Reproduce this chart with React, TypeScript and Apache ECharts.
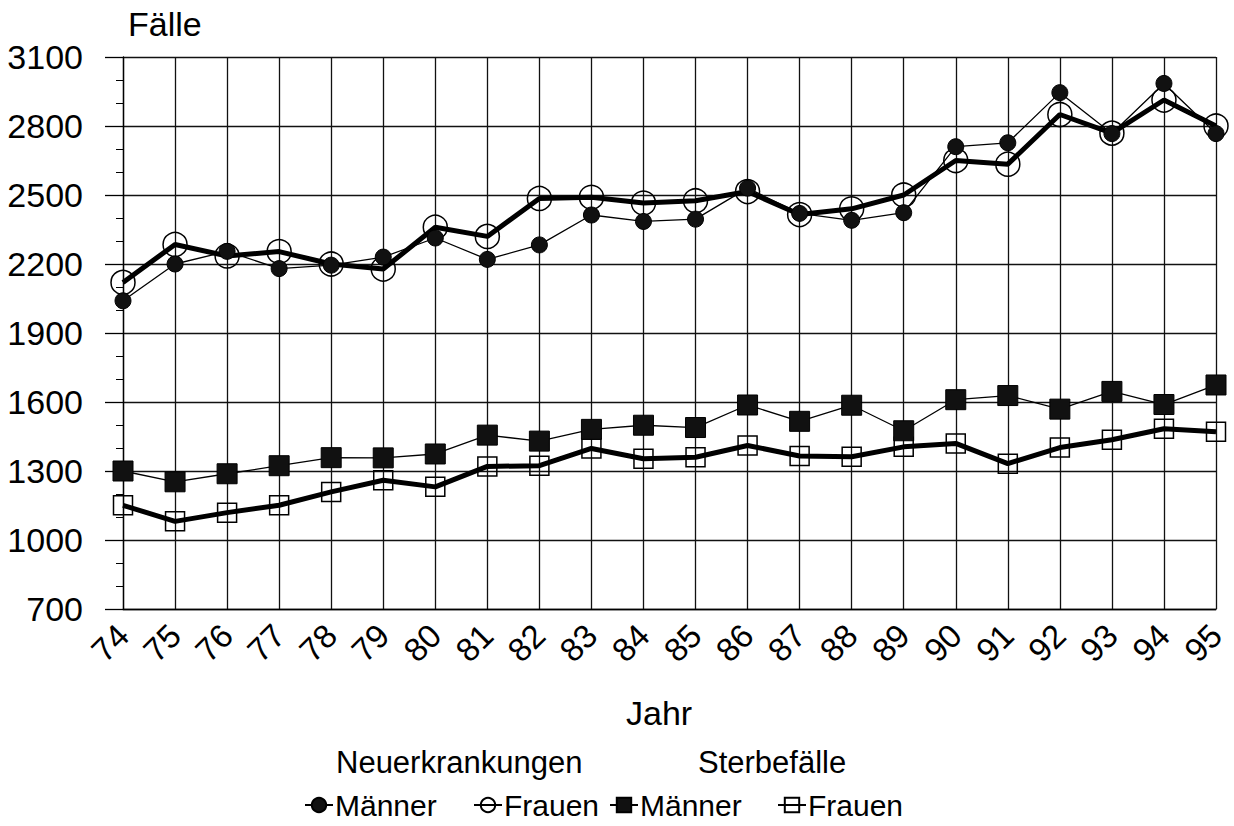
import React, { useEffect, useRef } from "react";
import * as echarts from "echarts";

const years = ["74", "75", "76", "77", "78", "79", "80", "81", "82", "83", "84", "85", "86", "87", "88", "89", "90", "91", "92", "93", "94", "95"];
const neuMaenner = [2040, 2200, 2255, 2180, 2195, 2230, 2313, 2220, 2283, 2413, 2385, 2395, 2530, 2420, 2390, 2423, 2710, 2727, 2945, 2767, 2985, 2767];
const neuFrauen = [2120, 2285, 2235, 2254, 2200, 2178, 2360, 2320, 2485, 2490, 2465, 2475, 2515, 2415, 2440, 2500, 2650, 2634, 2850, 2769, 2913, 2800];
const sterbeMaenner = [1300, 1253, 1288, 1323, 1358, 1357, 1374, 1456, 1430, 1481, 1499, 1489, 1587, 1516, 1586, 1475, 1610, 1628, 1569, 1646, 1589, 1674];
const sterbeFrauen = [1151, 1081, 1119, 1151, 1209, 1260, 1231, 1320, 1323, 1398, 1353, 1360, 1411, 1365, 1362, 1405, 1420, 1332, 1402, 1436, 1484, 1471];

const yMin = 700;
const yMax = 3100;
const yStep = 300;

const FONT = "'Liberation Sans', Arial, Helvetica, sans-serif";

export default function App() {
  const ref = useRef<HTMLDivElement>(null);

  useEffect(() => {
    if (!ref.current) return;
    const chart = echarts.init(ref.current, undefined, { renderer: "svg" });

    const legendLabel = (name: string) => name.split(" ")[1];
    const legendCommon = {
      top: 789,
      padding: 0,
      itemWidth: 28,
      itemHeight: 18,
      selectedMode: false,
      formatter: legendLabel,
      textStyle: { fontFamily: FONT, fontSize: 30, lineHeight: 32, color: "#000", padding: [0, 0, 0, -3] },
    };

    chart.setOption({
      animation: false,
      backgroundColor: "#fff",
      textStyle: { fontFamily: FONT },
      grid: { left: 123, right: 18, top: 57, bottom: 217 },
      xAxis: {
        type: "category",
        data: years,
        boundaryGap: false,
        axisLine: { show: true, lineStyle: { color: "#000", width: 1.3 } },
        axisTick: { show: false },
        splitLine: { show: true, interval: 0, lineStyle: { color: "#111", width: 1.3 } },
        axisLabel: {
          interval: 0,
          rotate: 45,
          margin: 21,
          fontSize: 33,
          color: "#000",
          fontFamily: FONT,
        },
      },
      yAxis: {
        type: "value",
        min: yMin,
        max: yMax,
        interval: yStep,
        axisLine: { show: true, lineStyle: { color: "#000", width: 1.3 } },
        axisTick: { show: true, length: 18, lineStyle: { color: "#000", width: 1.3 } },
        minorTick: { show: true, splitNumber: 3, length: 7, lineStyle: { color: "#000", width: 1 } },
        splitLine: { show: true, lineStyle: { color: "#111", width: 1.3 } },
        axisLabel: {
          margin: 40,
          fontSize: 34,
          color: "#000",
          fontFamily: FONT,
          formatter: (v: number) => String(v),
        },
      },
      legend: [
        { ...legendCommon, left: 304, data: ["Neuerkrankungen Männer"] },
        { ...legendCommon, left: 473, data: ["Neuerkrankungen Frauen"] },
        { ...legendCommon, left: 609, data: ["Sterbefälle Männer"] },
        { ...legendCommon, left: 777, data: ["Sterbefälle Frauen"] },
      ],
      graphic: [
        { type: "text", left: 128, top: 7, style: { text: "Fälle", fontSize: 34, fontFamily: FONT, fill: "#000" } },
        { type: "text", left: 626, top: 696, style: { text: "Jahr", fontSize: 34, fontFamily: FONT, fill: "#000" } },
        { type: "text", left: 336, top: 747, style: { text: "Neuerkrankungen", fontSize: 31, fontFamily: FONT, fill: "#000" } },
        { type: "text", left: 698, top: 747, style: { text: "Sterbefälle", fontSize: 31, fontFamily: FONT, fill: "#000" } },
      ],
      series: [
        {
          name: "Sterbefälle Frauen",
          type: "line",
          data: sterbeFrauen,
          symbol: "rect",
          symbolSize: 19,
          lineStyle: { color: "#000", width: 5 },
          itemStyle: { color: "rgba(255,255,255,0)", borderColor: "#000", borderWidth: 1.5 },
          z: 2,
        },
        {
          name: "Sterbefälle Männer",
          type: "line",
          data: sterbeMaenner,
          symbol: "rect",
          symbolSize: 20,
          lineStyle: { color: "#000", width: 1.3 },
          itemStyle: { color: "#111", borderColor: "#000", borderWidth: 1 },
          z: 3,
        },
        {
          name: "Neuerkrankungen Frauen",
          type: "line",
          data: neuFrauen,
          symbol: "circle",
          symbolSize: 24,
          lineStyle: { color: "#000", width: 5 },
          itemStyle: { color: "rgba(255,255,255,0)", borderColor: "#000", borderWidth: 1.5 },
          z: 2,
        },
        {
          name: "Neuerkrankungen Männer",
          type: "line",
          data: neuMaenner,
          symbol: "circle",
          symbolSize: 16,
          lineStyle: { color: "#000", width: 1.3 },
          itemStyle: { color: "#111", borderColor: "#000", borderWidth: 1 },
          z: 3,
        },
      ],
    });

    return () => chart.dispose();
  }, []);

  return (
    <div
      ref={ref}
      style={{ position: "fixed", left: 0, top: 0, width: 1234, height: 826, background: "#fff" }}
    />
  );
}
